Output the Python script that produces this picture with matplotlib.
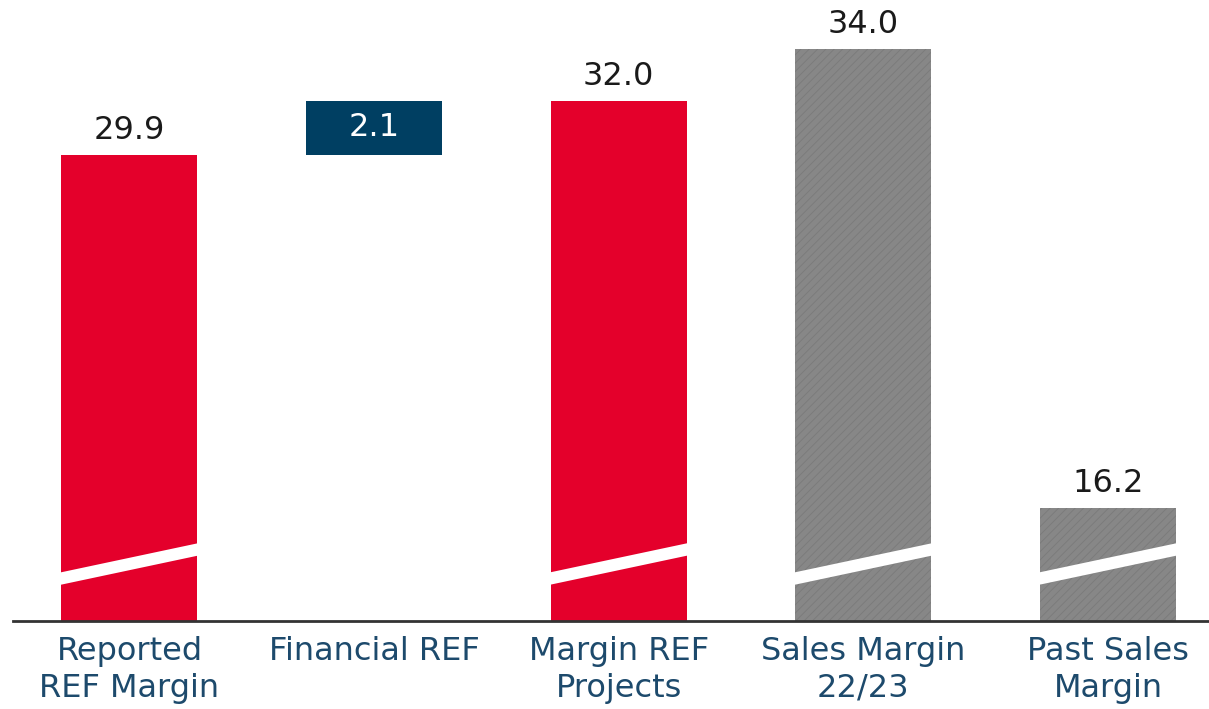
import matplotlib.pyplot as plt
import numpy as np

# --- data ---
categories = ["Reported\nREF Margin", "Financial REF", "Margin REF\nProjects",
              "Sales Margin\n22/23", "Past Sales\nMargin"]
values = [29.9, 2.1, 32.0, 34.0, 16.2]
bottoms = [0, 29.9, 0, 0, 0]
colors = ["#e4002b", "#003f62", "#e4002b", "#878787", "#878787"]
broken = [True, False, True, True, True]

plt.rcParams["hatch.linewidth"] = 0.6

fig = plt.figure(figsize=(12.09, 7.09), dpi=100)
ax = fig.add_axes([13 / 1209, 88 / 709, 1 - 13 / 1209, 621 / 709])

x = np.arange(len(categories))
w = 0.556
for i in x:
    hatch = "////" if colors[i] == "#878787" else None
    ax.bar(i, values[i], w, bottom=bottoms[i], color=colors[i],
           edgecolor="#7a7a7a" if hatch else colors[i], linewidth=0, hatch=hatch)

# white slashes marking the broken axis
for i in x:
    if not broken[i]:
        continue
    x0, x1 = i - w / 2 - 0.01, i + w / 2 + 0.01
    ax.fill([x0, x1, x1, x0], [13.22, 14.38, 14.86, 13.70], color="white", lw=0, zorder=3)

# value labels
for i in x:
    top = bottoms[i] + values[i]
    if bottoms[i] > 0:
        ax.text(i, bottoms[i] + values[i] / 2, f"{values[i]:.1f}", ha="center", va="center",
                color="white", fontsize=23)
    else:
        ax.text(i, top + 0.35, f"{values[i]:.1f}", ha="center", va="bottom",
                color="#1a1a1a", fontsize=23)

ax.set_xlim(-0.476, 4.413)
ax.set_ylim(11.83, 35.9)
ax.set_xticks(x)
ax.set_xticklabels(categories, fontsize=23, color="#1d4a6c", linespacing=1.22)
ax.tick_params(axis="x", length=0, pad=11)
ax.set_yticks([])
for s in ["top", "right", "left"]:
    ax.spines[s].set_visible(False)
ax.spines["bottom"].set_color("#333333")
ax.spines["bottom"].set_linewidth(2)

fig.savefig("out.png", dpi=100)
